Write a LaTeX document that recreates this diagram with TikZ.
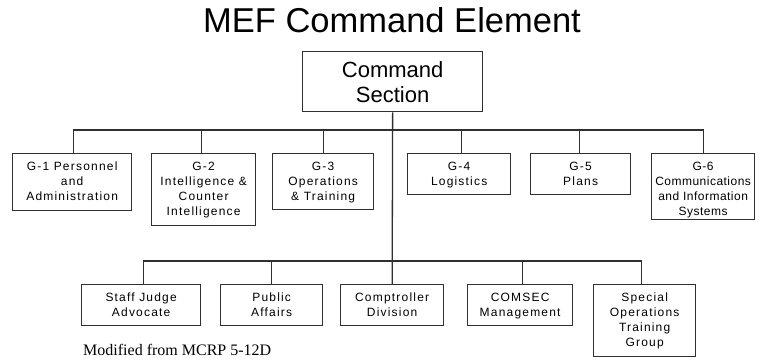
\documentclass[tikz,border=0pt]{standalone}
\usepackage{fontspec}
\setmainfont{Liberation Sans}
\newfontfamily\boxfont{Liberation Sans}[LetterSpace=10]
\newfontfamily\boxfontnarrow{Liberation Sans}[LetterSpace=4]
\newfontfamily\serifnote{Liberation Serif}
\definecolor{linec}{HTML}{303030}
\begin{document}
\begin{tikzpicture}[x=1pt,y=-1pt,
  box/.style={draw=linec, line width=1.3pt, anchor=north west, inner sep=0pt},
  lbl/.style={anchor=north, inner sep=0pt, align=center, font=\boxfont\fontsize{12}{15}\selectfont, yshift=-6.5pt},
  conn/.style={draw=linec, line width=1.3pt}]
\useasboundingbox[fill=white] (0,0) rectangle (760,362);

% title
\node[anchor=base, inner sep=0pt, font=\fontsize{34.5}{38}\selectfont] (title) at (392,32) {MEF Command Element};

% command section
\node[box, minimum width=180pt, minimum height=60pt] (cmd) at (302,51) {};
\node[anchor=north, inner sep=0pt, align=center, font=\fontsize{22}{25}\selectfont, yshift=-8.5pt] (cmdt) at (cmd.north) {\strut Command\\Section};

% G staff boxes
\node[box, minimum width=119pt, minimum height=57pt] (g1) at (12,153) {};
\node[box, minimum width=104pt, minimum height=72pt] (g2) at (151,153) {};
\node[box, minimum width=101pt, minimum height=56pt] (g3) at (272,153) {};
\node[box, minimum width=103pt, minimum height=41pt] (g4) at (407,153) {};
\node[box, minimum width=100pt, minimum height=41pt] (g5) at (530,153) {};
\node[box, minimum width=103pt, minimum height=66pt] (g6) at (651,153) {};

\node[lbl] (g1t) at (g1.north) {\strut G-1 Personnel\\and\\Administration};
\node[lbl] (g2t) at (g2.north) {\strut G-2\\Intelligence \&\\Counter\\Intelligence};
\node[lbl] (g3t) at (g3.north) {\strut G-3\\Operations\\\& Training};
\node[lbl] (g4t) at (g4.north) {\strut G-4\\Logistics};
\node[lbl] (g5t) at (g5.north) {\strut G-5\\Plans};
\node[lbl, font=\boxfontnarrow\fontsize{12}{15}\selectfont] (g6t) at (g6.north) {\strut G-6\\Communications\\and Information\\Systems};

% special staff boxes
\node[box, minimum width=119pt, minimum height=41pt] (sja) at (81,284) {};
\node[box, minimum width=102pt, minimum height=41pt] (pa) at (220,284) {};
\node[box, minimum width=103pt, minimum height=41pt] (comp) at (340,284) {};
\node[box, minimum width=105pt, minimum height=41pt] (comsec) at (467,284) {};
\node[box, minimum width=102pt, minimum height=72pt] (sotg) at (593,284) {};

\node[lbl] (sjat) at (sja.north) {\strut Staff Judge\\Advocate};
\node[lbl] (pat) at (pa.north) {\strut Public\\Affairs};
\node[lbl] (compt) at (comp.north) {\strut Comptroller\\Division};
\node[lbl] (comsect) at (comsec.north) {\strut COMSEC\\Management};
\node[lbl] (sotgt) at (sotg.north) {\strut Special\\Operations\\Training\\Group};

% connectors
\draw[conn] (cmd.south) -- (comp.north);
\draw[conn] ([xshift=1.5pt]g1.north) -- ++(0,-23) -| (g6.north);
\draw[conn] ([xshift=-2pt]g2.north) -- ++(0,-23);
\draw[conn] (g3.north) -- ++(0,-23);
\draw[conn] ([xshift=2.5pt]g4.north) -- ++(0,-23);
\draw[conn] ([xshift=-1.5pt]g5.north) -- ++(0,-23);
\draw[conn] ([xshift=2.5pt]sja.north) -- ++(0,-23) -| ([xshift=-3pt]sotg.north);
\draw[conn] (pa.north) -- ++(0,-23);
\draw[conn] ([xshift=2.5pt]comsec.north) -- ++(0,-23);

% source note
\node[anchor=base west, inner sep=0pt, font=\serifnote\fontsize{16}{19}\selectfont] (note) at (83,355) {Modified from MCRP 5-12D};
\end{tikzpicture}
\end{document}
